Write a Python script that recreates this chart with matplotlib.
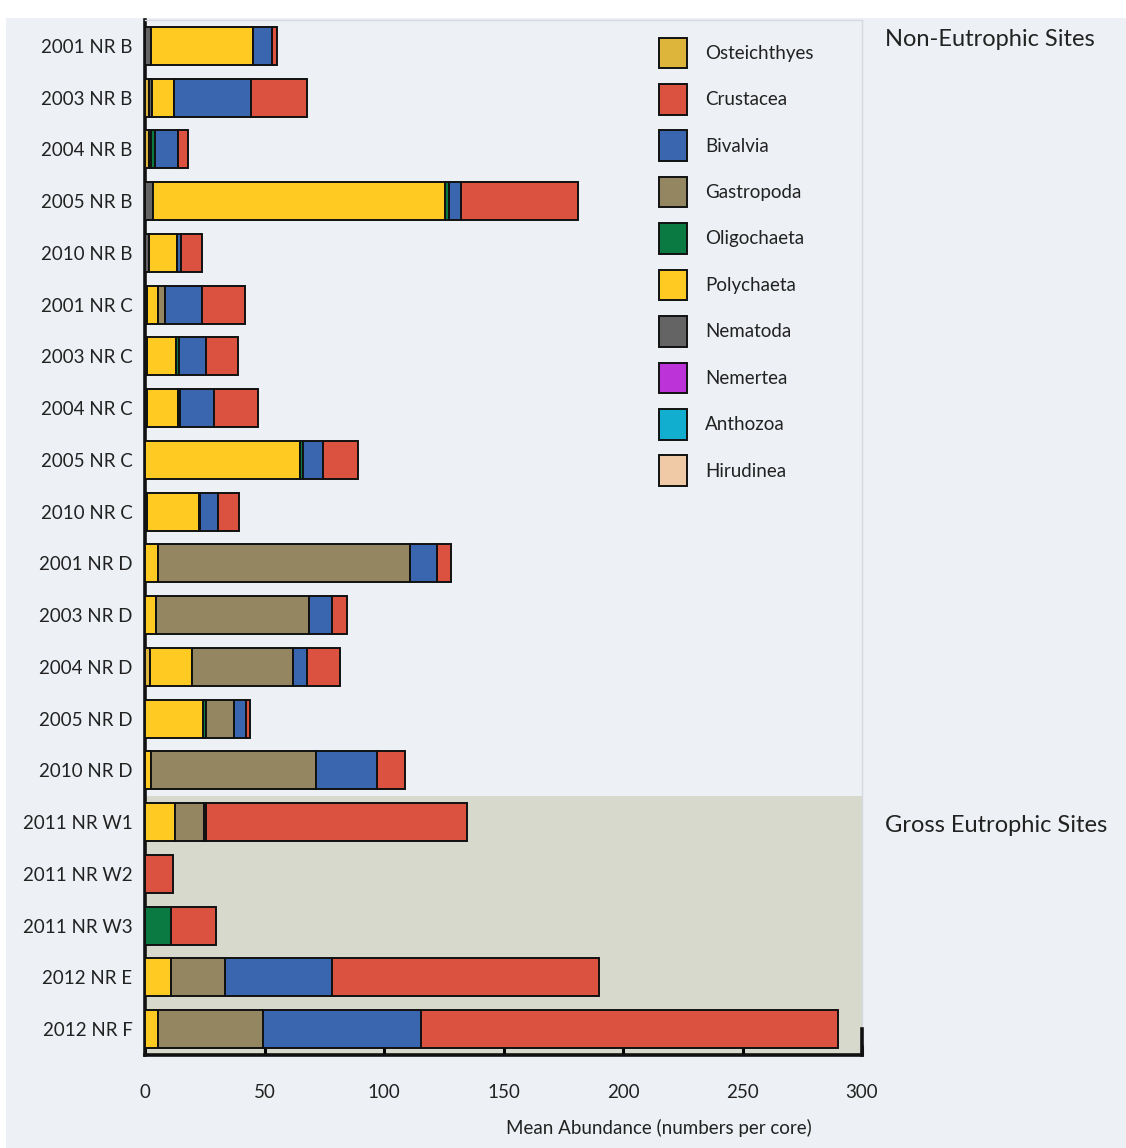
import numpy as np
import matplotlib
matplotlib.use("Agg")
import matplotlib.pyplot as plt
from matplotlib.patches import Patch, Rectangle

plt.rcParams['font.family'] = ['Lato', 'DejaVu Sans']

# ---------- data: mean abundance per core, one list per taxon ----------
sites = [
    "2001 NR B", "2003 NR B", "2004 NR B", "2005 NR B", "2010 NR B",
    "2001 NR C", "2003 NR C", "2004 NR C", "2005 NR C", "2010 NR C",
    "2001 NR D", "2003 NR D", "2004 NR D", "2005 NR D", "2010 NR D",
    "2011 NR W1", "2011 NR W2", "2011 NR W3", "2012 NR E", "2012 NR F",
]
n_non_eutrophic = 15

osteichthyes = [0, 1.8, 1.5, 0, 0, 0, 0, 0, 0, 0, 0, 0, 2.0, 0, 0, 0, 0, 0, 0, 0]
nematoda = [2.5, 1.2, 0, 3.5, 1.5, 1.0, 0.7, 1.0, 0, 0.8, 0, 0, 0, 0, 0, 0, 0, 0, 0, 0]
polychaeta = [42.6, 9.3, 1.2, 122.0, 11.9, 4.4, 12.4, 12.6, 64.7, 21.6,
              5.4, 4.5, 17.5, 24.3, 2.7, 12.7, 0, 0, 11.0, 5.5]
oligochaeta = [0, 0, 1.3, 1.5, 0, 0, 1.3, 1.2, 1.5, 0.8, 0, 0, 0, 1.3, 0, 0, 0, 10.8, 0, 0]
gastropoda = [0, 0, 0, 0, 0, 3.1, 0, 0, 0, 0, 105.4, 64.3, 42.3, 11.8, 68.7,
              12.0, 0, 0, 22.4, 44.0]
nemertea = [0] * 15 + [0.8, 0, 0, 0, 0]
anthozoa = [0] * 20
hirudinea = [0] * 20
bivalvia = [8.0, 32.0, 9.9, 5.4, 1.8, 15.5, 11.3, 14.0, 8.2, 7.5,
            11.2, 9.3, 5.8, 5.0, 25.5, 0, 0, 0, 44.9, 65.8]
crustacea = [2.0, 23.3, 4.0, 48.9, 8.6, 17.9, 13.3, 18.4, 14.9, 8.8,
             5.9, 6.3, 14.0, 1.5, 12.0, 109.2, 11.8, 19.0, 111.7, 174.8]

colors = {
    "Osteichthyes": "#DDB53A",
    "Crustacea": "#DB5241",
    "Bivalvia": "#3A66B0",
    "Gastropoda": "#948660",
    "Oligochaeta": "#0B7A42",
    "Polychaeta": "#FFCA22",
    "Nematoda": "#646464",
    "Nemertea": "#BC33D8",
    "Anthozoa": "#12AECF",
    "Hirudinea": "#F0C9A7",
}

# left-to-right order of the stacked segments
stack = [
    ("Osteichthyes", osteichthyes),
    ("Nematoda", nematoda),
    ("Polychaeta", polychaeta),
    ("Oligochaeta", oligochaeta),
    ("Gastropoda", gastropoda),
    ("Nemertea", nemertea),
    ("Anthozoa", anthozoa),
    ("Hirudinea", hirudinea),
    ("Bivalvia", bivalvia),
    ("Crustacea", crustacea),
]
legend_order = ["Osteichthyes", "Crustacea", "Bivalvia", "Gastropoda", "Oligochaeta",
                "Polychaeta", "Nematoda", "Nemertea", "Anthozoa", "Hirudinea"]

BG = "#EDF0F4"
SHADE = "#D7D9CD"

fig = plt.figure(figsize=(11.26, 11.48), dpi=100, facecolor="white")
fig.patches.append(Rectangle((6 / 1126, 0), 1, 1 - 18 / 1148, transform=fig.transFigure,
                             facecolor=BG, edgecolor="none", zorder=-10))
ax = fig.add_axes([145 / 1126, 93 / 1148, 717 / 1126, 1035 / 1148])
ax.set_facecolor(BG)

y = np.arange(len(sites))
left = np.zeros(len(sites))
for name, vals in stack:
    vals = np.asarray(vals, dtype=float)
    keep = vals > 0
    if keep.any():
        ax.barh(y[keep], vals[keep], left=left[keep], height=0.73,
                color=colors[name], edgecolor="#111111", linewidth=1.4, zorder=3)
    left += vals

# gross eutrophic block
ax.axhspan(n_non_eutrophic - 0.5, len(sites) - 0.5, color=SHADE, zorder=0, lw=0)

ax.set_xlim(0, 300)
ax.set_ylim(len(sites) - 0.5, -0.5)
ax.set_yticks(y)
ax.set_yticklabels(sites, fontsize=13.5, color="#222222")
ax.set_xticks(np.arange(0, 301, 50))
ax.tick_params(axis="y", length=0, pad=9)
ax.tick_params(axis="x", direction="in", length=7, width=2.2, pad=21,
               labelsize=13.5, labelcolor="#222222")

for side in ("left", "bottom"):
    ax.spines[side].set_linewidth(2.6)
    ax.spines[side].set_color("#111111")
for side in ("top", "right"):
    ax.spines[side].set_linewidth(1.0)
    ax.spines[side].set_color("#D5D9DE")
ax.axvline(300, ymin=0, ymax=0.025, color="#111111", lw=2.6, zorder=5, clip_on=False)

ax.set_xlabel("Mean Abundance (numbers per core)", fontsize=13.5, color="#222222")
ax.xaxis.set_label_coords(0.717, -0.062)

handles = [Patch(facecolor=colors[n], edgecolor="#111111", linewidth=1.4) for n in legend_order]
ax.legend(handles, legend_order, loc="upper left", bbox_to_anchor=(0.717, 0.983),
          frameon=False, fontsize=13.5, handlelength=1.5, handleheight=2.125,
          labelspacing=0.85, handletextpad=0.95, borderpad=0, borderaxespad=0,
          labelcolor="#222222")

ax.text(1.032, 0.981, "Non-Eutrophic Sites", transform=ax.transAxes,
        fontsize=17, color="#222222", va="center", ha="left")
ax.text(1.032, 0.222, "Gross Eutrophic Sites", transform=ax.transAxes,
        fontsize=17, color="#222222", va="center", ha="left")

fig.savefig("out.png", dpi=100, facecolor=fig.get_facecolor())
